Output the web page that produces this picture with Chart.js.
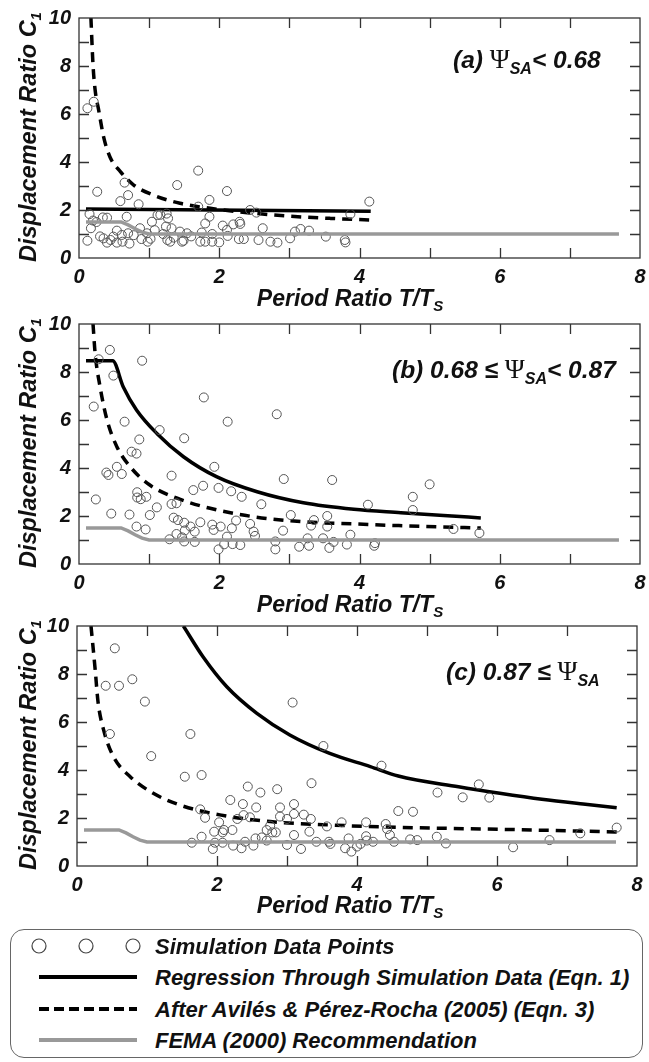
<!DOCTYPE html>
<html><head><meta charset="utf-8">
<script src="https://cdn.jsdelivr.net/npm/chart.js@4.4.0/dist/chart.umd.min.js"></script>
<style>
html,body{margin:0;padding:0;background:#fff;}
body{width:649px;height:1062px;position:relative;overflow:hidden;font-family:"Liberation Sans",Arial,sans-serif;}
canvas{position:absolute;left:0;}
.t{position:absolute;font-weight:bold;font-style:italic;color:#111;white-space:nowrap;}
.xt{font-size:23px;line-height:23px;transform:translateX(-50%);}
.yt{font-size:23.5px;line-height:23px;transform:translate(-50%,-50%) rotate(-90deg);}
.sub{font-size:15px;position:relative;top:5px;}
.ann{font-size:24.5px;line-height:24.5px;}
.psi{font-family:"Liberation Serif","DejaVu Serif",serif;font-weight:normal;font-style:normal;font-size:27px;}
.ssub{font-size:16px;position:relative;top:6px;}
#legend{position:absolute;left:10px;top:929px;width:631px;height:127px;border:1.5px solid #666;border-radius:14px;}
.lrow{position:absolute;left:154px;font-size:22px;line-height:22px;font-weight:bold;font-style:italic;color:#111;white-space:nowrap;}
svg{position:absolute;left:0;top:0;}
</style>
</head><body>
<canvas id="ca" width="649" height="292" style="top:0px"></canvas>
<canvas id="cb" width="649" height="300" style="top:296px"></canvas>
<canvas id="cc" width="649" height="300" style="top:598px"></canvas>

<div class="t yt" style="left:29px;top:137px">Displacement Ratio C<span class="sub">1</span></div>
<div class="t yt" style="left:29px;top:443px">Displacement Ratio C<span class="sub">1</span></div>
<div class="t yt" style="left:29px;top:745px">Displacement Ratio C<span class="sub">1</span></div>

<div class="t xt" style="left:350px;top:287px">Period Ratio T/T<span class="sub">S</span></div>
<div class="t xt" style="left:350px;top:593px">Period Ratio T/T<span class="sub">S</span></div>
<div class="t xt" style="left:350px;top:894px">Period Ratio T/T<span class="sub">S</span></div>

<div class="t ann" style="left:453px;top:47px">(a) <span class="psi">Ψ</span><span class="ssub">SA</span>&lt; 0.68</div>
<div class="t ann" style="left:392px;top:357px">(b) 0.68 ≤ <span class="psi">Ψ</span><span class="ssub">SA</span>&lt; 0.87</div>
<div class="t ann" style="left:446px;top:659px">(c) 0.87 ≤ <span class="psi">Ψ</span><span class="ssub">SA</span></div>

<div id="legend">
  <svg width="160" height="127">
    <circle cx="28" cy="16" r="7" fill="none" stroke="#444" stroke-width="1.2"/>
    <circle cx="75" cy="16" r="7" fill="none" stroke="#444" stroke-width="1.2"/>
    <circle cx="122" cy="16" r="7" fill="none" stroke="#444" stroke-width="1.2"/>
    <line x1="28" y1="47" x2="126" y2="47" stroke="#000" stroke-width="4"/>
    <line x1="28" y1="79" x2="126" y2="79" stroke="#000" stroke-width="4" stroke-dasharray="10,5"/>
    <line x1="28" y1="110" x2="126" y2="110" stroke="#999" stroke-width="4"/>
  </svg>
  <div class="lrow" style="top:6px;left:144px">Simulation Data Points</div>
  <div class="lrow" style="top:37px;left:144px">Regression Through Simulation Data (Eqn. 1)</div>
  <div class="lrow" style="top:69px;left:144px">After Avilés &amp; Pérez-Rocha (2005) (Eqn. 3)</div>
  <div class="lrow" style="top:100px;left:144px">FEMA (2000) Recommendation</div>
</div>

<script>
// ---- axis values ----
const xTickLabels = [0, 2, 4, 6, 8];
const yTickLabels = [0, 2, 4, 6, 8, 10];
const xMinorTicks = [1, 2, 3, 4, 5, 6, 7];
const yMinorTicks = [1, 2, 3, 4, 5, 6, 7, 8, 9];

// ---- FEMA (2000) recommendation (same in all panels) ----
const femaT = [0.1, 0.6, 0.7, 0.8, 0.9, 1.0, 7.7];
const femaC = [1.5, 1.5, 1.38, 1.22, 1.08, 1.0, 1.0];

// ---- panel (a) ----
const aRegT = [0.1, 4.16];
const aRegC = [2.04, 1.95];
const aAprT = [0.17, 0.2, 0.23, 0.28, 0.35, 0.44, 0.59, 0.78, 1.06, 1.44, 1.87, 2.4, 2.97, 3.59, 4.16];
const aAprC = [10.0, 8.04, 7.0, 6.17, 5.06, 4.22, 3.6, 3.04, 2.62, 2.28, 2.07, 1.89, 1.75, 1.65, 1.58];
const aSimT = [0.12,0.21,0.26,0.12,0.15,0.2,0.17,0.34,0.4,0.35,0.4,0.49,0.54,0.54,0.59,0.65,0.7,0.85,0.61,0.62,0.68,0.7,0.72,0.87,0.89,0.98,0.97,1.04,1.08,1.12,1.16,1.25,1.27,1.24,1.32,1.26,1.3,1.4,1.44,1.49,1.54,1.47,1.7,1.75,1.73,1.8,1.86,1.86,1.8,1.9,1.9,1.7,2.11,2.05,2.11,2.12,2.29,2.3,2.28,2.35,2.44,2.56,2.53,2.62,2.73,2.83,3.01,3.08,3.16,3.28,3.52,3.79,3.8,3.87,4.14,0.3,0.45,0.78,1.02,1.2,1.35,1.6,2.0,2.2,0.25];
const aSimC = [6.24,6.51,2.76,0.72,1.83,1.56,1.24,1.69,1.68,0.82,0.64,0.89,1.14,0.64,2.37,3.14,2.62,2.24,0.96,0.68,1.72,1.03,0.6,1.24,0.79,0.68,1.03,1.51,1.16,1.79,1.8,1.85,1.65,1.31,1.24,0.75,0.68,3.04,1.1,0.72,1.03,0.68,3.64,1.06,0.68,1.44,1.72,2.42,0.68,1.0,0.68,2.14,2.79,1.35,1.17,0.92,1.51,1.42,0.79,0.79,2.0,0.75,1.89,1.24,0.68,0.64,0.82,1.1,1.21,1.14,0.89,0.75,0.65,1.83,2.35,0.9,0.75,0.95,0.8,1.0,0.85,0.9,0.65,1.4,1.5];

// ---- panel (b) ----
const bRegT = [0.1, 0.48, 0.63, 0.82, 1.11, 1.49, 1.96, 2.54, 3.2, 3.92, 4.59, 5.2, 5.73];
const bRegC = [8.47, 8.47, 7.39, 6.42, 5.44, 4.47, 3.64, 3.01, 2.55, 2.28, 2.14, 2.02, 1.92];
const bAprT = [0.2, 0.23, 0.3, 0.4, 0.54, 0.73, 1.01, 1.4, 1.87, 2.49, 3.2, 3.92, 4.56, 5.73];
const bAprC = [10.0, 8.78, 7.39, 6.0, 4.89, 4.05, 3.29, 2.74, 2.32, 1.97, 1.76, 1.67, 1.6, 1.5];
const bSimT = [0.44,0.28,0.9,0.49,0.21,1.78,2.12,2.82,0.65,1.15,1.5,0.86,0.75,0.82,1.93,0.54,0.39,0.42,0.61,1.32,2.92,3.61,0.24,0.83,0.83,0.88,0.96,1.63,1.77,1.99,2.17,2.32,2.6,1.11,1.01,0.46,0.72,1.32,1.39,1.35,1.41,1.5,1.59,1.51,1.65,1.73,0.82,0.95,1.29,1.39,1.47,1.5,1.65,1.9,1.92,2.02,1.99,2.07,2.11,2.18,2.24,2.19,2.3,2.44,2.49,2.51,2.8,2.8,2.91,3.02,3.14,3.26,3.28,3.31,3.35,3.48,3.54,3.54,3.57,3.63,3.82,3.87,4.12,4.21,4.22,4.76,4.76,5.0,5.34,5.71];
const bSimC = [8.92,8.53,8.47,7.85,6.56,6.94,5.93,6.24,5.93,5.58,5.24,5.19,4.68,4.6,4.05,4.05,3.81,3.71,3.75,3.68,3.54,3.5,2.69,2.99,2.77,2.7,2.8,3.08,3.26,3.17,3.03,2.8,2.49,2.36,2.04,2.1,2.06,2.5,2.53,1.93,1.83,1.72,1.56,1.4,1.35,1.74,1.56,1.44,1.03,1.25,1.11,0.94,0.92,1.64,1.42,1.56,0.61,0.82,1.14,1.49,1.81,0.83,0.79,1.67,1.35,1.17,0.94,0.61,1.39,2.04,0.72,1.07,0.76,1.6,1.83,1.07,2.0,1.56,0.67,0.92,0.81,1.22,2.47,0.76,0.87,2.8,2.25,3.32,1.46,1.29];

// ---- panel (c) ----
const cRegT = [1.52, 1.8, 2.14, 2.57, 3.04, 3.61, 4.19, 4.59, 5.45, 6.04, 6.64, 7.23, 7.71];
const cRegC = [10.0, 8.72, 7.47, 6.36, 5.46, 4.69, 4.14, 3.75, 3.3, 3.03, 2.78, 2.58, 2.43];
const cAprT = [0.2, 0.26, 0.3, 0.38, 0.52, 0.76, 1.09, 1.47, 2.04, 2.76, 3.61, 4.59, 6.04, 7.71];
const cAprC = [10.0, 8.17, 6.85, 5.67, 4.56, 3.72, 3.03, 2.54, 2.13, 1.85, 1.71, 1.61, 1.53, 1.42];
const cSimT = [0.54,0.41,0.6,0.79,0.97,0.47,1.06,1.62,3.08,3.52,4.35,1.54,1.78,3.35,2.44,2.86,2.62,2.19,2.37,2.56,2.9,3.1,1.76,1.83,1.78,1.64,1.96,2.03,2.08,2.1,2.22,2.29,2.38,2.47,1.94,1.97,2.08,2.23,2.35,2.4,2.52,2.55,2.64,2.71,2.71,2.76,2.79,2.84,2.9,3.0,3.1,3.1,3.0,3.2,3.24,3.32,3.34,3.42,3.57,3.6,3.62,3.78,3.83,3.88,3.92,4.0,4.05,4.13,4.13,4.14,4.23,4.41,4.43,4.47,4.53,4.59,4.8,4.76,4.86,5.15,5.14,5.27,5.51,5.74,5.89,6.23,6.75,7.19,7.71];
const cSimC = [9.07,7.51,7.51,7.78,6.85,5.5,4.58,5.5,6.81,5.0,4.18,3.72,3.79,3.45,3.31,3.2,3.06,2.75,2.58,2.44,2.44,2.58,2.36,2.01,1.22,0.97,1.43,1.82,1.4,1.5,1.5,1.96,2.12,2.03,0.71,0.97,0.97,0.85,0.74,1.01,0.85,1.15,1.19,1.06,1.5,1.68,1.4,1.4,2.06,1.96,2.17,1.29,0.88,0.71,2.14,1.43,1.96,1.01,1.65,1.01,0.92,1.82,0.74,1.15,0.6,0.81,0.92,1.82,1.24,1.06,1.01,1.75,1.54,1.29,1.01,2.29,2.26,1.11,1.08,3.06,1.22,0.94,2.86,3.4,2.85,0.78,1.08,1.36,1.6];

const zip = (T, C) => T.map((t, i) => ({x: t, y: C[i]}));

const framePlugin = {
  id: 'frame',
  afterDraw(chart) {
    const {ctx, chartArea: a, scales: {x, y}} = chart;
    ctx.save();
    ctx.strokeStyle = '#333';
    ctx.lineWidth = 1.3;
    ctx.strokeRect(a.left, a.top, a.width, a.height);
    ctx.beginPath();
    const L = 10;
    for (const v of xMinorTicks) {
      const p = Math.round(x.getPixelForValue(v)) + 0.5;
      ctx.moveTo(p, a.bottom); ctx.lineTo(p, a.bottom - L);
      ctx.moveTo(p, a.top); ctx.lineTo(p, a.top + L);
    }
    for (const v of yMinorTicks) {
      const p = Math.round(y.getPixelForValue(v)) + 0.5;
      ctx.moveTo(a.left, p); ctx.lineTo(a.left + L, p);
      ctx.moveTo(a.right, p); ctx.lineTo(a.right - L, p);
    }
    ctx.stroke();
    ctx.restore();
  }
};

const tickFont = {family: '"Liberation Sans", Arial, sans-serif', size: 20, weight: 'bold', style: 'italic'};

function makeChart(id, padTop, leftW, rightX, axisH, simT, simC, regT, regC, aprT, aprC) {
  new Chart(document.getElementById(id), {
    type: 'scatter',
    data: {
      datasets: [
        {data: zip(femaT, femaC), showLine: true, borderColor: '#999999', borderWidth: 3.5, pointRadius: 0, tension: 0},
        {data: zip(simT, simC), showLine: false, pointRadius: 4.5, pointStyle: 'circle', borderColor: '#555555', backgroundColor: 'rgba(0,0,0,0)', borderWidth: 1},
        {data: zip(aprT, aprC), showLine: true, borderColor: '#000', borderWidth: 3.5, borderDash: [10, 7], pointRadius: 0, cubicInterpolationMode: 'monotone'},
        {data: zip(regT, regC), showLine: true, borderColor: '#000', borderWidth: 3.5, pointRadius: 0, cubicInterpolationMode: 'monotone'}
      ]
    },
    options: {
      responsive: false,
      animation: false,
      devicePixelRatio: 1,
      layout: {padding: {top: padTop, right: 649 - rightX, left: 0, bottom: 0}},
      plugins: {legend: {display: false}, tooltip: {enabled: false}},
      scales: {
        x: {
          type: 'linear', min: 0, max: 8,
          grid: {display: false, drawTicks: false},
          border: {display: false},
          afterBuildTicks: s => { s.ticks = xTickLabels.map(v => ({value: v})); },
          ticks: {padding: 7, color: '#111', font: tickFont, maxRotation: 0, autoSkip: false},
          afterFit: s => { s.height = axisH; s.paddingLeft = 0; s.paddingRight = 0; }
        },
        y: {
          type: 'linear', min: 0, max: 10,
          grid: {display: false, drawTicks: false},
          border: {display: false},
          afterBuildTicks: s => { s.ticks = yTickLabels.map(v => ({value: v})); },
          ticks: {padding: 8, color: '#111', font: tickFont, autoSkip: false},
          afterFit: s => { s.width = leftW; s.paddingTop = 0; s.paddingBottom = 0; }
        }
      }
    },
    plugins: [framePlugin]
  });
}

makeChart('ca', 18, 79, 640, 34, aSimT, aSimC, aRegT, aRegC, aAprT, aAprC);
makeChart('cb', 28, 79, 640, 32, bSimT, bSimC, bRegT, bRegC, bAprT, bAprC);
makeChart('cc', 28, 77, 637, 32, cSimT, cSimC, cRegT, cRegC, cAprT, cAprC);
</script>
</body></html>
